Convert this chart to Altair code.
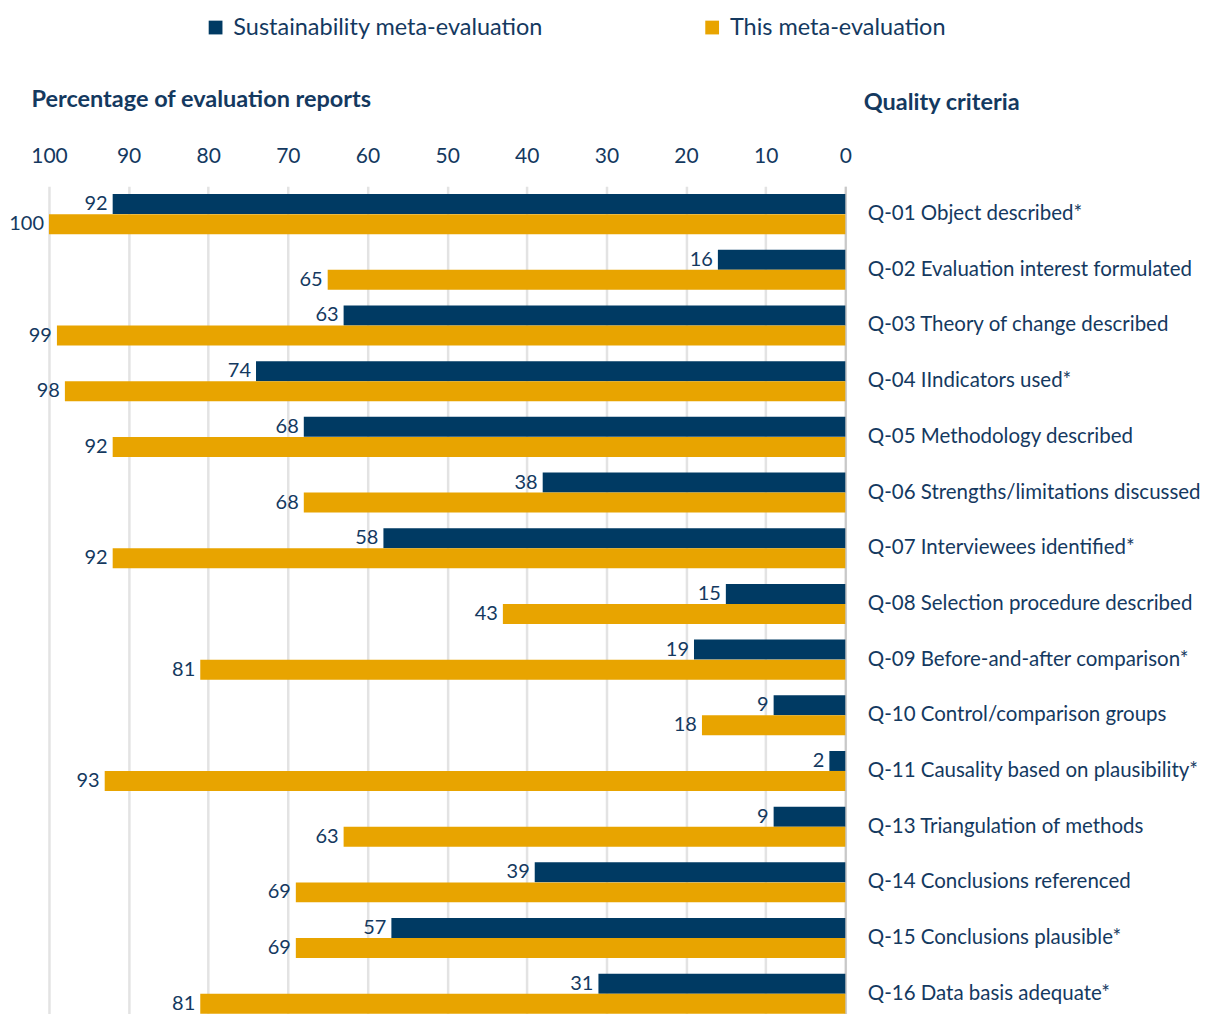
import altair as alt
import pandas as pd

criteria = [
    "Q-01 Object described*",
    "Q-02 Evaluation interest formulated",
    "Q-03 Theory of change described",
    "Q-04 IIndicators used*",
    "Q-05 Methodology described",
    "Q-06 Strengths/limitations discussed",
    "Q-07 Interviewees identified*",
    "Q-08 Selection procedure described",
    "Q-09 Before-and-after comparison*",
    "Q-10 Control/comparison groups",
    "Q-11 Causality based on plausibility*",
    "Q-13 Triangulation of methods",
    "Q-14 Conclusions referenced",
    "Q-15 Conclusions plausible*",
    "Q-16 Data basis adequate*",
]
sustainability = [92, 16, 63, 74, 68, 38, 58, 15, 19, 9, 2, 9, 39, 57, 31]
this_eval = [100, 65, 99, 98, 92, 68, 92, 43, 81, 18, 93, 63, 69, 69, 81]
series = ["Sustainability meta-evaluation", "This meta-evaluation"]
colors = ["#003A63", "#E8A400"]
text_color = "#14395F"
font = "Lato"

rows = []
for c, a, b in zip(criteria, sustainability, this_eval):
    rows.append({"criterion": c, "series": series[0], "value": a})
    rows.append({"criterion": c, "series": series[1], "value": b})
df = pd.DataFrame(rows)

y_enc = alt.Y(
    "criterion:N",
    sort=criteria,
    scale=alt.Scale(paddingInner=0.28, paddingOuter=0.14),
    axis=alt.Axis(
        orient="right",
        title="Quality criteria",
        titleAngle=0,
        titleAlign="left",
        titleBaseline="middle",
        titleX=18,
        titleY=-84,
        titleFont=font,
        titleFontSize=23.5,
        titleFontWeight="bold",
        titleColor=text_color,
        labelFont=font,
        labelFontSize=20.5,
        labelColor=text_color,
        labelPadding=22,
        labelLimit=400,
        ticks=False,
        domain=True,
        domainColor="#C8C8C8",
        domainWidth=2,
        grid=False,
    ),
)
yoff = alt.YOffset("series:N", sort=series)
x_enc = alt.X(
    "value:Q",
    scale=alt.Scale(domain=[0, 100], reverse=True),
    axis=alt.Axis(
        orient="top",
        values=list(range(0, 101, 10)),
        title="Percentage of evaluation reports",
        titleAlign="left",
        titleBaseline="middle",
        titleX=-18,
        titleY=-87,
        titleFont=font,
        titleFontSize=23.5,
        titleFontWeight="bold",
        titleColor=text_color,
        labelFont=font,
        labelFontSize=21,
        labelColor=text_color,
        labelPadding=20,
        labelFlush=False,
        labelOverlap=False,
        ticks=False,
        domain=False,
        grid=True,
        gridColor="#E3E3E3",
        gridWidth=2.5,
    ),
)

bars = alt.Chart(df).mark_bar(size=20).encode(
    y=y_enc,
    yOffset=yoff,
    x=x_enc,
    color=alt.Color(
        "series:N",
        sort=series,
        scale=alt.Scale(domain=series, range=colors),
        legend=alt.Legend(
            title=None,
            orient="none",
            legendX=155,
            legendY=-171,
            direction="horizontal",
            columns=2,
            columnPadding=157,
            symbolType="square",
            symbolSize=190,
            symbolStrokeWidth=0,
            symbolOpacity=1,
            labelFont=font,
            labelFontSize=23.5,
            labelColor=text_color,
            labelLimit=400,
            labelOffset=6,
        ),
    ),
)

labels = alt.Chart(df).mark_text(
    align="right", baseline="middle", dx=-5, font=font, fontSize=20, color=text_color
).encode(
    y=alt.Y("criterion:N", sort=criteria),
    yOffset=yoff,
    x=alt.X("value:Q"),
    text=alt.Text("value:Q"),
)

chart = (
    alt.layer(bars, labels)
    .properties(width=797, height=836, padding={"left": 1, "top": 7, "right": 0, "bottom": 0})
    .configure_view(stroke=None)
    .configure_scale(bandPaddingInner=0)
)

chart.save("out.html", embed_options={"renderer": "svg", "actions": False})
